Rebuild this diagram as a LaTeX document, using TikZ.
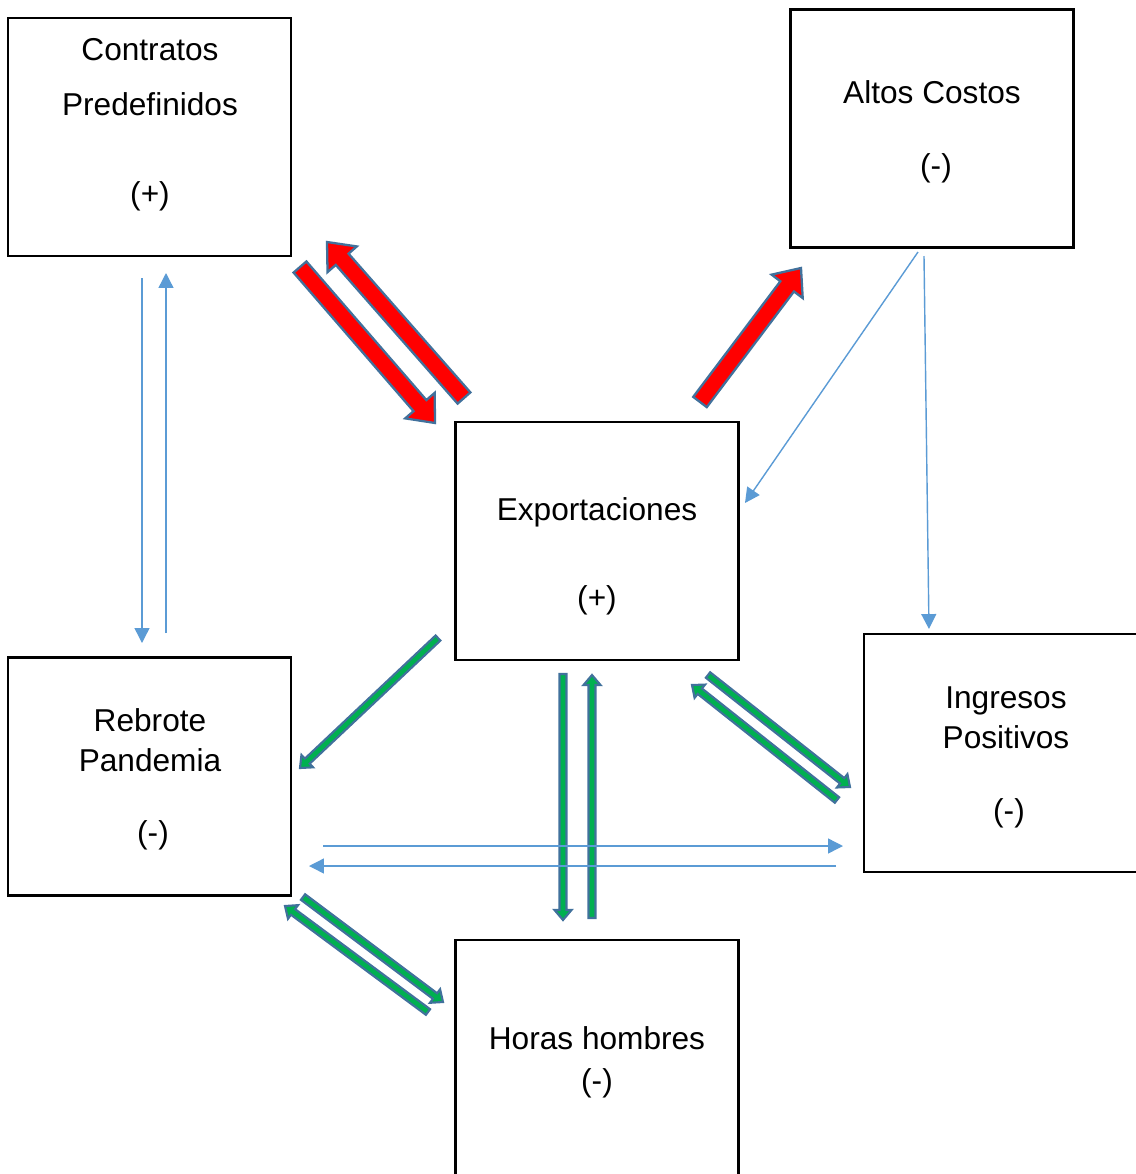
\documentclass[tikz,border=0pt]{standalone}
\usepackage{fontspec}
\setmainfont{Liberation Sans}
\usetikzlibrary{calc,arrows.meta}

\definecolor{rojo}{HTML}{FF0000}
\definecolor{borde}{HTML}{41719C}
\definecolor{verde}{HTML}{00B050}
\definecolor{azul}{HTML}{5B9BD5}

\tikzset{
	caja/.style={draw=black, line width=1.5pt, minimum width=5.66cm, minimum height=4.76cm, inner sep=0pt},
	texto/.style={font=\fontsize{18}{22}\selectfont, inner sep=0pt, text height=12.9pt, text depth=0pt},
	roja/.style={fill=rojo, draw=borde, line width=1.3pt},
	verdosa/.style={fill=verde, draw=borde, line width=1.2pt},
	fina/.style={draw=azul, line width=0.8pt, -{Triangle[length=8.5pt,width=8.5pt]}},
}

% flecha de bloque: estilo, desde, hasta, media cana, media punta, largo punta
\newcommand\flechabloque[6]{%
	\coordinate (fb) at ($(#3)!#6!(#2)$);
	\draw[#1] ($(#2)!#4!90:(#3)$) -- ($(fb)!#4!90:(#3)$) -- ($(fb)!#5!90:(#3)$) -- (#3)
		-- ($(fb)!#5!-90:(#3)$) -- ($(fb)!#4!-90:(#3)$) -- ($(#2)!#4!-90:(#3)$) -- cycle;
}

\begin{document}
\begin{tikzpicture}[x=0.02cm, y=-0.02cm]
	\clip (0,0) rectangle (1136,1174);

	\node[caja] (contratos) at (149.5,137) {};
	\node[caja] (altos) at (932,128.5) {};
	\node[caja] (export) at (597,541) {};
	\node[caja] (rebrote) at (149.5,776.5) {};
	\node[caja] (ingresos) at (1005.5,753) {};
	\node[caja] (horas) at (597,1059) {};

	% extremos de las flechas
	\coordinate (r1a) at (300,267);
	\coordinate (r1b) at (435,423);
	\coordinate (r2a) at (464,398);
	\coordinate (r2b) at (327,242);
	\coordinate (r3a) at (700,402);
	\coordinate (r3b) at (801,268);

	\coordinate (v1a) at (438,638);
	\coordinate (v1b) at (300,768);
	\coordinate (v2a) at (563,674);
	\coordinate (v2b) at (563,920);
	\coordinate (v3a) at (592,918);
	\coordinate (v3b) at (592,675);
	\coordinate (v4a) at (708,675);
	\coordinate (v4b) at (850,787);
	\coordinate (v5a) at (837,800);
	\coordinate (v5b) at (692,685);
	\coordinate (v6a) at (303,897);
	\coordinate (v6b) at (443,1002);
	\coordinate (v7a) at (428,1012);
	\coordinate (v7b) at (285,906);

	\coordinate (a1a) at (142,278);
	\coordinate (a1b) at (142,643);
	\coordinate (a2a) at (166,633);
	\coordinate (a2b) at (166,273);
	\coordinate (a3a) at (918,252);
	\coordinate (a3b) at (745,503);
	\coordinate (a4a) at (924,256);
	\coordinate (a4b) at (929,629);
	\coordinate (a5a) at (323,846);
	\coordinate (a5b) at (843,846);
	\coordinate (a6a) at (836,866);
	\coordinate (a6b) at (309,866);

	\flechabloque{roja}{r1a}{r1b}{0.17cm}{0.39cm}{0.46cm}
	\flechabloque{roja}{r2a}{r2b}{0.17cm}{0.39cm}{0.46cm}
	\flechabloque{roja}{r3a}{r3b}{0.17cm}{0.39cm}{0.46cm}

	\foreach \f in {v1,v2,v3,v4,v5,v6,v7}
		\flechabloque{verdosa}{\f a}{\f b}{0.07cm}{0.17cm}{0.2cm};

	\foreach \f in {a1,a2,a3,a4,a5,a6}
		\draw[fina] (\f a) -- (\f b);

	\node[texto] (contratosA) at (150,49) {Contratos};
	\node[texto] (contratosB) at (150,104) {Predefinidos};
	\node[texto] (contratosC) at (150,193) {(+)};
	\node[texto] (altosA) at (932,92) {Altos Costos};
	\node[texto] (altosB) at (936,165) {(-)};
	\node[texto] (exportA) at (597,509) {Exportaciones};
	\node[texto] (exportB) at (597,597) {(+)};
	\node[texto] (rebroteA) at (150,720) {Rebrote};
	\node[texto] (rebroteB) at (150,760) {Pandemia};
	\node[texto] (rebroteC) at (153,832) {(-)};
	\node[texto] (ingresosA) at (1006,697) {Ingresos};
	\node[texto] (ingresosB) at (1006,737) {Positivos};
	\node[texto] (ingresosC) at (1009,810) {(-)};
	\node[texto] (horasA) at (597,1038) {Horas hombres};
	\node[texto] (horasB) at (597,1080) {(-)};
\end{tikzpicture}
\end{document}
